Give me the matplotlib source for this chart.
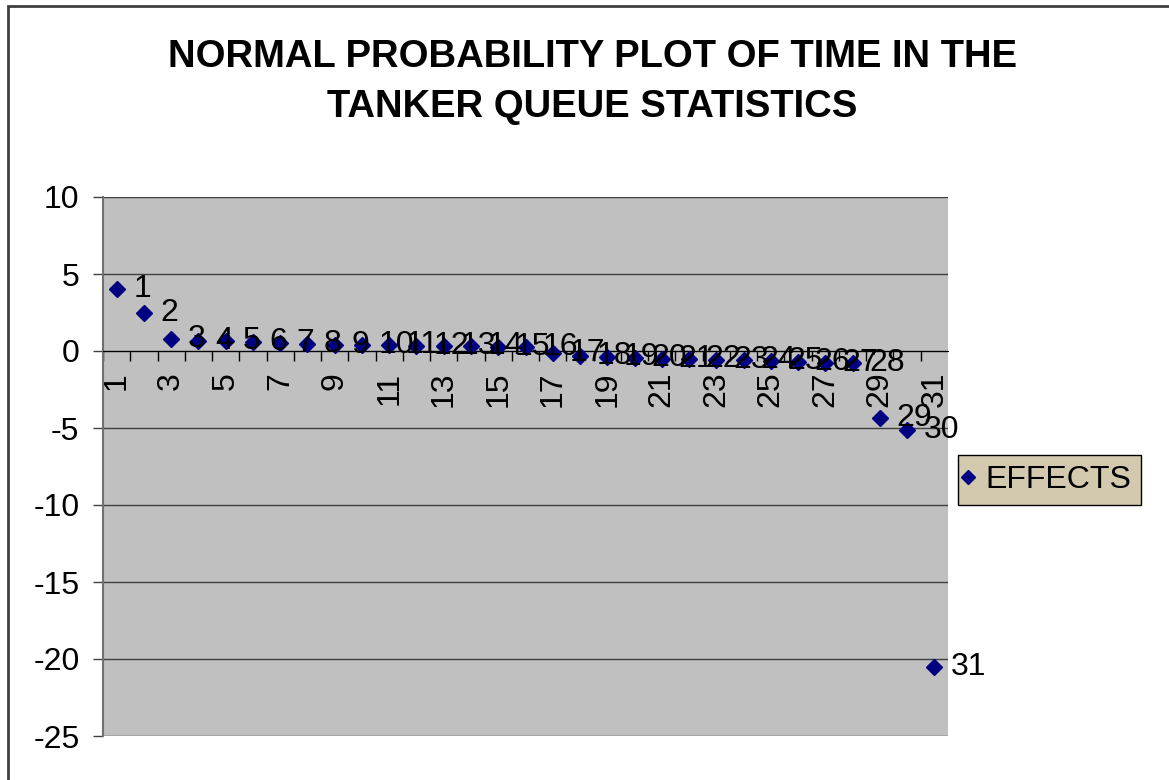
import matplotlib.pyplot as plt
from matplotlib.patches import Rectangle
from matplotlib.lines import Line2D

plt.rcParams['font.family'] = ['Liberation Sans', 'DejaVu Sans']

# effect estimates, sorted, one per run number
runs = list(range(1, 32))
effects = [4.0, 2.45, 0.78, 0.68, 0.62, 0.56, 0.5, 0.45, 0.4, 0.4,
           0.37, 0.34, 0.32, 0.3, 0.28, 0.26, -0.1, -0.32, -0.37, -0.47,
           -0.54, -0.54, -0.58, -0.58, -0.63, -0.69, -0.76, -0.8, -4.35, -5.1,
           -20.5]
x_labels = [str(r) if r % 2 == 1 else '' for r in runs]
y_ticks = [10, 5, 0, -5, -10, -15, -20, -25]

fig = plt.figure(figsize=(11.69, 7.8), dpi=100)
ax = fig.add_axes([103 / 1169, 44 / 780, 845 / 1169, 539 / 780])
ax.set_facecolor('#C0C0C0')

ax.plot(runs, effects, linestyle='none', marker='D', markersize=8.5,
        color='#000080', label='EFFECTS', zorder=3)

# data labels next to each marker
for r, v in zip(runs, effects):
    ax.annotate(str(r), (r, v), xytext=(12, 0), textcoords='offset points',
                ha='left', va='center', fontsize=23, color='black',
                annotation_clip=False, zorder=4)

ax.set_xlim(0.5, 31.5)
ax.set_ylim(-25, 10)
ax.set_yticks(y_ticks)
ax.set_yticklabels([str(t) for t in y_ticks], fontsize=23)
ax.tick_params(axis='y', direction='out', length=7, width=1, pad=10,
               color='#404040')
ax.yaxis.grid(True, color='#404040', linewidth=1)
ax.set_axisbelow(True)

# category axis crossing at zero
ax.spines['bottom'].set_position(('data', 0))
ax.spines['bottom'].set_color('black')
ax.spines['top'].set_visible(False)
ax.spines['right'].set_visible(False)
ax.spines['left'].set_color('#707070')
ax.spines['left'].set_linewidth(1.5)
ax.set_xticks(runs)
ax.set_xticklabels(x_labels, rotation=90, fontsize=23)
ax.set_xticks([r + 0.5 for r in range(0, 31)], minor=True)
ax.tick_params(axis='x', which='major', length=0, pad=15)
ax.tick_params(axis='x', which='minor', direction='out', length=7,
               width=1, color='black')

fig.text(592 / 1169, 1 - 67 / 780, 'NORMAL PROBABILITY PLOT OF TIME IN THE',
         ha='center', va='baseline', fontsize=27.5, fontweight='bold')
fig.text(592 / 1169, 1 - 117 / 780, 'TANKER QUEUE STATISTICS',
         ha='center', va='baseline', fontsize=27.5, fontweight='bold')

handle = Line2D([], [], linestyle='none', marker='D', markersize=7.5,
                color='#000080')
leg = fig.legend([handle], ['EFFECTS'], loc='center left',
                 bbox_to_anchor=(958 / 1169, 1 - 480 / 780), fontsize=23,
                 frameon=True, fancybox=False, borderpad=0.3,
                 handlelength=0.05, handletextpad=0.5, borderaxespad=0)
leg.get_frame().set_facecolor('#D3C9AF')
leg.get_frame().set_edgecolor('black')
leg.get_frame().set_linewidth(1)
leg.get_frame().set_alpha(1)

# outer chart border
fig.patches.append(Rectangle((8 / 1169, -0.1), 1.2, 1 - 6 / 780 + 0.1,
                             transform=fig.transFigure, fill=False,
                             edgecolor='#404040', linewidth=2))

fig.savefig('out.png', dpi=100)
